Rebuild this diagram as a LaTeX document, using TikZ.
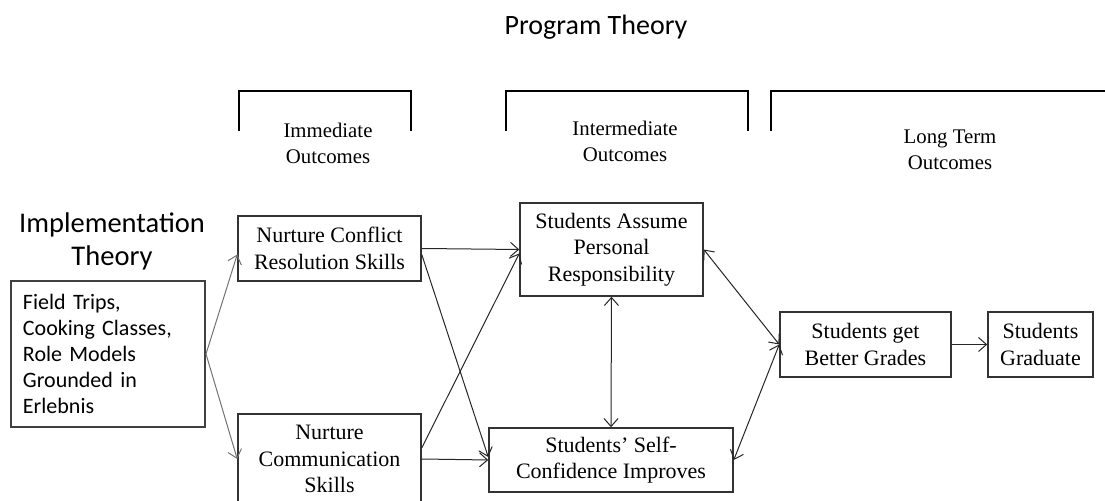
\documentclass[tikz,border=0pt]{standalone}
\usepackage{fontspec}
\setmainfont{Liberation Serif}
\newfontfamily\calibri{Carlito}
\usepackage{tikz}
\usetikzlibrary{positioning,arrows.meta}

\begin{document}
\begin{tikzpicture}[x=0.5pt,y=-0.5pt,
  >={Straight Barb[length=4pt,width=7pt]},
  outbox/.style={draw=black!80,line width=0.75pt,inner sep=0pt,align=center,font=\fontsize{11}{13.25}\selectfont},
  bracket/.style={black,line width=1.3pt},
  head/.style={align=center,font=\fontsize{10.4}{13}\selectfont},
  link/.style={->,black!85,line width=0.5pt},
  both/.style={<->,black!85,line width=0.5pt}]
\useasboundingbox (0,0) rectangle (1105,501);
\clip (0,0) rectangle (1105,501);
\node[font=\calibri\fontsize{14}{16.5}\selectfont] (prog) at (596,27) {Program Theory};
\node[align=center,font=\calibri\fontsize{14.25}{16.5}\selectfont] (implt) at (112,241) {Implementation\\Theory};
\node[draw=black!75,line width=1pt,minimum width=97pt,minimum height=73pt,text width=85pt,inner xsep=6pt,align=left,font=\calibri\fontsize{11}{13}\selectfont] (acts) at (108,354) {Field Trips,\\Cooking Classes,\\Role Models\\Grounded in\\Erlebnis};
\node[outbox,minimum width=91.5pt,minimum height=32.5pt] (conflict) at (329.5,248.5) {Nurture Conflict\\Resolution Skills};
\node[outbox,minimum width=91.5pt,minimum height=45pt] (comm) at (329.5,459) {Nurture\\Communication\\Skills};
\node[outbox,minimum width=91.5pt,minimum height=46.5pt] (resp) at (611.5,249.5) {Students Assume\\Personal\\Responsibility};
\node[outbox,minimum width=122pt,minimum height=32pt] (conf) at (611,460) {Students’ Self-\\Confidence Improves};
\node[outbox,minimum width=85.5pt,minimum height=32.5pt] (grades) at (865.5,344.5) {Students get\\Better Grades};
\node[outbox,minimum width=52.5pt,minimum height=32.5pt] (grad) at (1040.5,344.5) {Students\\Graduate};
\draw[bracket] (239,131) -- (239,91) -- (411,91) -- (411,131);
\draw[bracket] (506,131) -- (506,91) -- (748,91) -- (748,131);
\draw[bracket] (771,131) -- (771,91) -- (1110,91);
\node[head] (immed) at (328,143) {Immediate\\Outcomes};
\node[head] (inter) at (625,141) {Intermediate\\Outcomes};
\node[head] (longt) at (950,150) {Long Term\\Outcomes};
\draw[link,black!55] (acts.east) -- ([yshift=-3pt]conflict.west);
\draw[link,black!55] (acts.east) -- (comm.west);
\draw[link] (conflict.east) -- (resp.west);
\draw[link] ([yshift=-3pt]conflict.east) -- ([yshift=1.5pt]conf.west);
\draw[link] (comm.east) -- (conf.west);
\draw[link] ([yshift=5.5pt]comm.east) -- ([yshift=-2pt]resp.west);
\draw[both] (resp.south) -- (conf.north);
\draw[both] (resp.east) -- (grades.west);
\draw[both] (conf.east) -- (grades.west);
\draw[link] (grades.east) -- (grad.west);
\end{tikzpicture}
\end{document}
